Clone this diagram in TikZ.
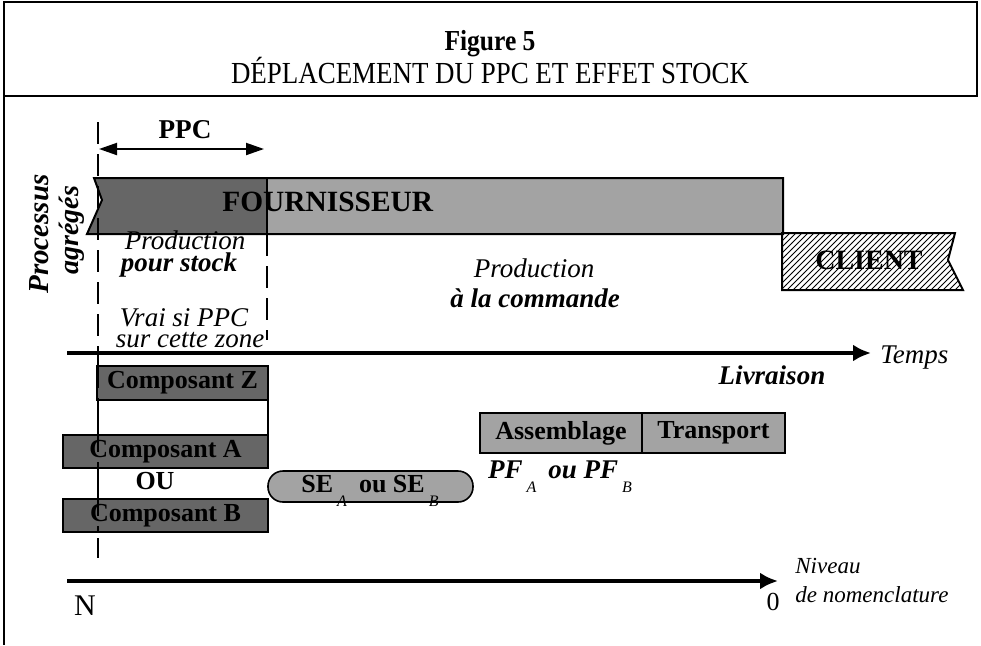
\documentclass[tikz,border=0pt]{standalone}
\usepackage{fontspec}
\setmainfont{Liberation Serif}
\usetikzlibrary{arrows.meta,patterns}
\definecolor{boxdark}{gray}{0.40}
\definecolor{boxlight}{gray}{0.64}
\newcommand{\souscrit}[1]{\hspace{2pt}\raisebox{-7pt}{\normalfont\itshape\fontsize{8}{8}\selectfont #1}}

\begin{document}
\begin{tikzpicture}[x=0.5pt,y=-0.5pt,
  every node/.style={inner sep=0pt},
  txt/.style={font=\fontsize{13.5}{14}\selectfont},
  it/.style={font=\itshape\fontsize{13.5}{14}\selectfont},
  bi/.style={font=\bfseries\itshape\fontsize{13.5}{14}\selectfont},
  bold/.style={font=\bfseries\fontsize{13}{14}\selectfont},
  darkbox/.style={draw=black,line width=0.8pt,fill=boxdark},
  lightbox/.style={draw=black,line width=0.8pt,fill=boxlight},
  dashline/.style={line width=0.6pt,dash pattern=on 11pt off 5pt},
  axe/.style={line width=2pt,-{Latex[length=9pt,width=8.5pt]}}]
\useasboundingbox (0,0) rectangle (981,645);

% cadre et titre
\draw[line width=0.8pt] (4,2) rectangle (977,96);
\draw[line width=0.8pt] (4,96) -- (4,645);
\node[anchor=base,xscale=0.88,font=\bfseries\fontsize{14.5}{16}\selectfont] (fig) at (490,50) {Figure 5};
\node[anchor=base,xscale=0.88,font=\fontsize{15.3}{16}\selectfont] (titre) at (490,83) {DÉPLACEMENT DU PPC ET EFFET STOCK};

% processus agreges
\fill[boxlight] (267,178) rectangle (783,234);
\fill[boxdark] (94,178) -- (267,178) -- (267,234) -- (87,234) -- (102,200) -- cycle;
\draw[line width=1pt] (94,178) -- (783,178) -- (783,234) -- (87,234) -- (102,200) -- cycle;
\draw[line width=1pt] (267,178) -- (267,234);
\node[anchor=base west,font=\bfseries\fontsize{14.7}{15}\selectfont] (four) at (222,211) {FOURNISSEUR};

\draw[line width=1pt,pattern=north east lines] (782,233) -- (955,233) -- (948,260) -- (963,290) -- (782,290) -- cycle;
\node[anchor=base,font=\bfseries\fontsize{14}{15}\selectfont] (client) at (869,269) {CLIENT};

\node[rotate=90,anchor=base,font=\bfseries\itshape\fontsize{14.5}{15}\selectfont] (proc) at (48,234) {Processus};
\node[rotate=90,anchor=base,font=\bfseries\itshape\fontsize{14}{15}\selectfont] (agr) at (78,230) {agrégés};

% PPC
\coordinate (ppcL) at (99,149);
\coordinate (ppcR) at (264,149);
\draw[line width=1pt,{Triangle[length=9pt,width=6pt]}-{Triangle[length=9pt,width=6pt]}] (ppcL) -- (ppcR);
\node[anchor=base,font=\bfseries\fontsize{13.6}{14}\selectfont] (ppc) at (185,138) {PPC};

\draw[dashline] (98,122) -- (98,558);
\draw[dashline] (267,234) -- (267,340);

\node[anchor=base,it] (prodS) at (185,249) {Production};
\node[anchor=base,bi] (stock) at (179,271) {pour stock};
\node[anchor=base,it] (prodC) at (534,277) {Production};
\node[anchor=base,bi] (cmd) at (535,307) {à la commande};
\node[anchor=base,it] (vrai) at (184,326) {Vrai si PPC};
\node[anchor=base,it] (zone) at (190,347) {sur cette zone};

% axe du temps
\coordinate (t0) at (67,353);
\coordinate (t1) at (871,353);
\draw[axe] (t0) -- (t1);
\node[anchor=base west,it] (temps) at (880,363) {Temps};
\node[anchor=base,bi] (livr) at (772,384) {Livraison};

% composants
\draw[darkbox] (97,366) rectangle node[bold] (cz) {Composant Z} (268,400);
\draw[line width=0.6pt] (268,400) -- (268,435);
\draw[darkbox] (63,435) rectangle node[bold] (ca) {Composant A} (268,468);
\node[anchor=base,bold] (ou) at (155,489) {OU};
\draw[darkbox] (63,499) rectangle node[bold] (cb) {Composant B} (268,532);
\draw[dashline] (98,366) -- (98,532);

\draw[lightbox,rounded corners=7.5pt] (268,471) rectangle (473,502);
\node[anchor=base,bold] (se) at (370,492) {SE\souscrit{A}\hspace{6pt}ou SE\souscrit{B}};

\draw[lightbox] (480,413) rectangle node[bold] (asm) {Assemblage} (642,453);
\draw[lightbox] (642,413) rectangle node[bold] (trp) {Transport} (785,453);
\node[anchor=base,bi] (pf) at (560,478) {PF\souscrit{A}\hspace{6pt}ou PF\souscrit{B}};

% niveau de nomenclature
\coordinate (n0) at (67,581);
\coordinate (n1) at (778,581);
\draw[axe] (n0) -- (n1);
\node[anchor=base,font=\fontsize{15}{15}\selectfont] (nN) at (85,615) {N};
\node[anchor=base,font=\fontsize{13}{14}\selectfont] (zero) at (773,610) {0};
\node[anchor=base west,font=\itshape\fontsize{11.5}{12}\selectfont] (niv) at (795,573) {Niveau};
\node[anchor=base west,font=\itshape\fontsize{11.5}{12}\selectfont] (nomen) at (795,602) {de nomenclature};
\end{tikzpicture}
\end{document}
